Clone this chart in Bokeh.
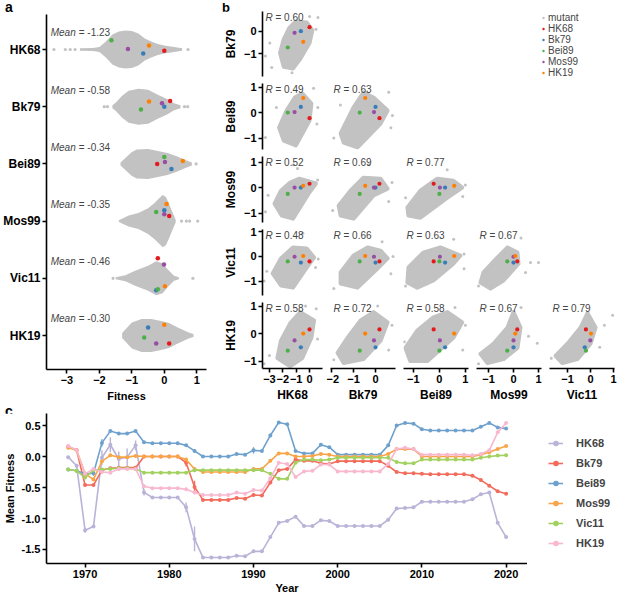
from bokeh.plotting import figure
from bokeh.models import Range1d, FixedTicker, Label, Legend, LegendItem, NumeralTickFormatter, Div
from bokeh.layouts import row, column
from bokeh.embed import file_html
from bokeh.resources import INLINE

FONT = "Liberation Sans"
GRAY = "#c2c2c2"

# ---------------- data ----------------
strains = ["HK68", "Bk79", "Bei89", "Mos99", "Vic11", "HK19"]
mean_fitness = [-1.23, -0.58, -0.34, -0.35, -0.46, -0.30]

wt_names = ["HK68", "Bk79", "Bei89", "Mos99", "HK19"]
wt_colors = ["#e41a1c", "#377eb8", "#4daf4a", "#984ea3", "#ff7f00"]

# fitness of the five labelled strains, measured in each background
wt_fit_HK68 = [0.00, -0.65, -1.63, -1.12, -0.47]
wt_fit_Bk79 = [0.18, 0.00, -0.72, -0.07, -0.47]
wt_fit_Bei89 = [-0.22, 0.22, 0.00, 0.02, 0.57]
wt_fit_Mos99 = [0.15, 0.00, -0.25, 0.00, 0.07]
wt_fit_Vic11 = [-0.20, -0.25, -0.20, -0.01, 0.02]
wt_fit_HK19 = [0.15, -0.50, -0.62, -0.25, 0.00]
# swarm jitter of those points (row units)
wt_jit_HK68 = [-0.02, -0.07, 0.16, 0.01, 0.07]
wt_jit_Bk79 = [0.10, 0.00, -0.05, 0.06, 0.09]
wt_jit_Bei89 = [0.00, -0.09, 0.12, 0.035, 0.05]
wt_jit_Mos99 = [0.09, 0.19, 0.16, 0.12, 0.30]
wt_jit_Vic11 = [0.35, -0.21, -0.19, 0.24, -0.14]
wt_jit_HK19 = [-0.14, 0.14, -0.035, -0.14, 0.19]

# beeswarm outline of the mutants: fitness and half width (row units)
swarm_f_HK68 = [-2.6, -2.2, -2.0, -1.8, -1.6, -1.4, -1.2, -1.0, -0.8, -0.6, -0.4, -0.2, 0.0, 0.2, 0.4, 0.55]
swarm_w_HK68 = [0.021, 0.026, 0.044, 0.14, 0.262, 0.315, 0.332, 0.323, 0.28, 0.192, 0.14, 0.096, 0.07, 0.052, 0.035, 0.021]
swarm_t_HK68 = [-3.40, -3.05, -2.9, -2.75, 0.73]
swarm_f_Bk79 = [-1.6, -1.5, -1.3, -1.1, -0.8, -0.5, -0.2, 0.1, 0.3, 0.5]
swarm_w_Bk79 = [0.026, 0.07, 0.192, 0.28, 0.315, 0.297, 0.21, 0.131, 0.061, 0.026]
swarm_t_Bk79 = [-1.85, -1.75, 0.62, 0.72]
swarm_f_Bei89 = [-1.35, -1.2, -1.0, -0.85, -0.5, -0.2, 0.1, 0.4, 0.65, 0.85]
swarm_w_Bei89 = [0.026, 0.105, 0.21, 0.253, 0.262, 0.227, 0.192, 0.131, 0.07, 0.026]
swarm_t_Bei89 = [0.98]
swarm_f_Mos99 = [-1.4, -1.1, -0.8, -0.5, -0.3, -0.15, -0.05, 0.05, 0.15, 0.25, 0.35]
swarm_w_Mos99 = [0.017, 0.096, 0.14, 0.227, 0.315, 0.402, 0.455, 0.42, 0.297, 0.157, 0.026]
swarm_t_Mos99 = [0.53, 0.68, 0.78, 1.03]
swarm_f_Vic11 = [-1.5, -1.2, -0.9, -0.5, -0.25, -0.05, 0.1, 0.3, 0.45]
swarm_w_Vic11 = [0.017, 0.052, 0.131, 0.219, 0.297, 0.262, 0.157, 0.044, 0.017]
swarm_t_Vic11 = [-1.58, 0.88]
swarm_f_HK19 = [-1.3, -1.2, -1.0, -0.7, -0.4, -0.1, 0.15, 0.35, 0.55, 0.75, 0.9]
swarm_w_HK19 = [0.044, 0.105, 0.227, 0.288, 0.288, 0.253, 0.219, 0.157, 0.105, 0.052, 0.026]
swarm_t_HK19 = []

# correlation coefficients (row strain vs column strain)
R_Bk79 = [0.60]
R_Bei89 = [0.49, 0.63]
R_Mos99 = [0.52, 0.69, 0.77]
R_Vic11 = [0.48, 0.66, 0.63, 0.67]
R_HK19 = [0.58, 0.72, 0.58, 0.67, 0.79]

# axis spans of the scatter matrix
xspan_HK68 = (-3.52, 0.97)
xspan_Bk79 = (-2.05, 0.91)
xspan_Bei89 = (-1.38, 1.12)
xspan_Mos99 = (-1.48, 1.12)
xspan_Vic11 = (-1.78, 1.04)
yspan_Bk79 = (-2.0, 0.87)
yspan_Bei89 = (-1.45, 1.14)
yspan_Mos99 = (-1.37, 1.22)
yspan_Vic11 = (-1.59, 1.10)
yspan_HK19 = (-1.27, 1.13)

# outline of the dense mutant cloud in each scatter panel (x = column strain, y = row strain)
cx_Bk79_HK68 = [-1.03, -0.21, 0.21, 0.0, -0.69, -1.24, -1.93, -2.21, -1.93, -1.52]
cy_Bk79_HK68 = [0.43, 0.39, 0.04, -0.52, -1.22, -1.65, -1.57, -0.96, -0.35, 0.13]
cx_Bei89_HK68 = [-0.55, 0.14, 0.0, -1.03, -1.93, -2.28, -1.72, -1.10]
cy_Bei89_HK68 = [0.75, 0.35, -0.31, -1.29, -1.10, -0.59, 0.08, 0.59]
cx_Mos99_HK68 = [-0.76, 0.48, -0.07, -1.24, -2.07, -2.62, -2.14, -1.45]
cy_Mos99_HK68 = [0.35, 0.16, -0.24, -1.22, -1.10, -0.63, -0.12, 0.20]
cx_Vic11_HK68 = [-1.24, -0.21, 0.34, -0.21, -1.24, -2.14, -2.76, -2.14]
cy_Vic11_HK68 = [0.37, 0.33, -0.04, -0.45, -1.27, -1.18, -0.69, -0.08]
cx_HK19_HK68 = [-0.69, 0.34, 0.14, -0.55, -1.45, -2.41, -2.14, -1.45]
cy_HK19_HK68 = [0.78, 0.48, -0.15, -0.89, -1.19, -0.89, -0.26, 0.37]
cx_Bei89_Bk79 = [-0.55, -0.09, 0.55, 0.23, -0.82, -1.45, -1.59, -1.0]
cy_Bei89_Bk79 = [0.78, 0.59, 0.08, -0.43, -1.37, -1.18, -0.82, 0.2]
cx_Mos99_Bk79 = [-0.55, 0.23, 0.55, -0.09, -1.0, -1.59, -1.68, -1.14]
cy_Mos99_Bk79 = [0.39, 0.35, -0.04, -0.31, -1.22, -1.10, -0.71, -0.12]
cx_Vic11_Bk79 = [-0.36, 0.23, 0.55, 0.09, -0.82, -1.59, -1.59, -1.0]
cy_Vic11_Bk79 = [0.37, 0.24, -0.08, -0.49, -1.27, -1.10, -0.65, 0.04]
cx_HK19_Bk79 = [-0.09, 0.55, 0.23, -0.55, -1.45, -1.73, -1.27, -0.68]
cy_HK19_Bk79 = [0.78, 0.41, -0.26, -0.93, -1.07, -0.70, -0.15, 0.48]
cx_Mos99_Bei89 = [-0.08, 0.54, 0.88, 0.31, -0.73, -1.19, -1.23, -0.73]
cy_Mos99_Bei89 = [0.35, 0.27, 0.0, -0.39, -1.18, -1.10, -0.78, -0.12]
cx_Vic11_Bei89 = [0.04, 0.81, 0.54, -0.23, -0.85, -1.23, -1.19, -0.62]
cy_Vic11_Bei89 = [0.37, 0.04, -0.29, -0.98, -1.27, -1.06, -0.45, 0.16]
cx_HK19_Bei89 = [0.31, 0.88, 0.54, -0.46, -1.12, -1.31, -0.85, -0.23]
cy_HK19_Bei89 = [0.78, 0.41, -0.15, -1.0, -1.0, -0.52, 0.11, 0.59]
cx_Vic11_Mos99 = [-0.24, 0.16, 0.2, -0.4, -0.92, -1.32, -1.2, -0.64]
cy_Vic11_Mos99 = [0.37, 0.16, -0.29, -0.98, -1.31, -1.06, -0.65, -0.04]
cx_HK19_Mos99 = [0.0, 0.28, 0.16, -0.4, -1.04, -1.32, -0.8, -0.24]
cy_HK19_Mos99 = [0.78, 0.22, -0.52, -0.93, -1.07, -0.74, -0.37, 0.22]
cx_HK19_Vic11 = [-0.13, 0.22, 0.0, -0.57, -1.22, -1.52, -1.0, -0.43]
cy_HK19_Vic11 = [0.74, 0.22, -0.37, -0.93, -1.07, -0.81, -0.37, 0.22]

# scattered mutants outside the dense cloud (x, y)
out_Bk79_HK68 = [(0.0, 0.65), (0.63, 0.61), (0.48, 0.09), (-2.97, -0.52), (-3.3, -1.09), (-2.83, -1.6), (-1.31, -1.83)]
out_Bei89_HK68 = [(-2.48, 0.2), (0.62, 0.2), (-3.3, -0.98), (0.3, 0.95), (0.55, -0.45)]
out_Mos99_HK68 = [(-3.1, -0.3), (-3.3, -0.95), (0.6, 0.3), (-0.9, 0.75), (-1.2, 0.9)]
out_Vic11_HK68 = [(-3.2, -0.6), (-3.4, -1.0), (0.65, -0.1), (-0.5, 0.95), (0.45, -0.45)]
out_HK19_HK68 = [(-3.0, -0.8), (-3.4, -1.1), (0.5, 0.9), (0.6, -0.2), (-0.3, 1.0)]
out_Bei89_Bk79 = [(0.77, -0.12), (0.6, 0.8), (-1.9, -1.0), (-1.6, 0.3), (0.7, -0.6)]
out_Mos99_Bk79 = [(0.75, 0.2), (-0.3, 0.9), (-1.95, -0.9), (0.6, -0.55)]
out_Vic11_Bk79 = [(0.8, 0.0), (-1.9, -1.3), (0.3, 0.6), (0.7, -0.7)]
out_HK19_Bk79 = [(0.75, 0.3), (-1.9, -0.95), (0.1, 1.0), (0.6, -0.6)]
out_Mos99_Bei89 = [(1.0, 0.1), (-1.3, -0.4), (0.3, 0.7), (0.9, -0.35)]
out_Vic11_Bei89 = [(0.95, 0.1), (0.55, 0.7), (-1.3, -1.2), (0.95, -0.5)]
out_HK19_Bei89 = [(1.0, 0.3), (-1.35, -0.3), (0.6, 0.95), (0.9, -0.6)]
out_Vic11_Mos99 = [(0.68, -0.24), (1.0, -0.24), (0.48, -0.65), (0.3, 0.75), (-1.4, -1.2)]
out_HK19_Mos99 = [(0.6, -0.1), (0.95, -0.35), (-1.4, -1.1), (0.3, 0.95)]
out_HK19_Vic11 = [(0.96, 0.67), (0.6, 0.3), (-1.7, -0.9), (0.4, -0.5)]

# mean fitness of each strain against the mutants of each year
years = list(range(1968, 2021))
mf_HK68 = [-0.01, -0.15, -1.19, -1.13, -0.02, 0.19, -0.04, -0.01, 0.18, -0.58,
           -0.66, -0.66, -0.66, -0.66, -0.82, -1.33, -1.63, -1.63, -1.63, -1.63,
           -1.60, -1.61, -1.53, -1.53, -1.30, -1.07, -1.04, -0.97, -1.12, -1.12,
           -1.03, -1.04, -1.12, -1.12, -1.12, -1.12, -1.12, -1.12, -1.02, -0.84,
           -0.83, -0.82, -0.73, -0.73, -0.73, -0.73, -0.73, -0.73, -0.69, -0.61,
           -0.58, -1.07, -1.30]
mf_Bk79 = [0.16, 0.10, -0.46, -0.46, -0.22, -0.19, -0.18, -0.18, -0.18, 0.00,
           0.00, 0.00, 0.00, 0.00, -0.10, -0.49, -0.70, -0.70, -0.70, -0.70,
           -0.67, -0.68, -0.62, -0.63, -0.42, -0.22, -0.20, -0.05, -0.07, -0.07,
           -0.11, -0.12, -0.075, -0.075, -0.075, -0.075, -0.075, -0.075, -0.15, -0.25,
           -0.27, -0.27, -0.28, -0.285, -0.285, -0.285, -0.285, -0.285, -0.31, -0.38,
           -0.47, -0.56, -0.60]
mf_Bei89 = [-0.21, -0.23, -0.28, -0.27, 0.22, 0.41, 0.37, 0.37, 0.41, 0.23,
            0.215, 0.215, 0.215, 0.215, 0.18, 0.09, 0.00, 0.00, 0.00, 0.00,
            0.04, 0.03, 0.10, 0.09, 0.34, 0.55, 0.52, 0.09, 0.05, 0.05,
            0.19, 0.15, 0.03, 0.03, 0.03, 0.03, 0.03, 0.03, 0.18, 0.50,
            0.54, 0.53, 0.44, 0.42, 0.42, 0.42, 0.42, 0.42, 0.42, 0.48,
            0.54, 0.47, 0.45]
mf_Mos99 = [0.14, 0.10, -0.28, -0.37, -0.08, 0.02, -0.01, -0.01, 0.01, 0.00,
            0.00, 0.00, 0.00, 0.00, -0.05, -0.20, -0.25, -0.25, -0.25, -0.25,
            -0.25, -0.25, -0.20, -0.20, -0.07, 0.05, 0.05, 0.00, 0.00, 0.01,
            0.04, 0.03, 0.00, 0.00, 0.00, 0.00, 0.00, 0.00, 0.04, 0.12,
            0.12, 0.12, 0.00, 0.00, 0.00, 0.00, 0.00, 0.00, 0.00, 0.03,
            0.07, 0.12, 0.17]
mf_Vic11 = [-0.21, -0.23, -0.34, -0.22, -0.21, -0.20, -0.19, -0.19, -0.20, -0.26,
            -0.26, -0.26, -0.26, -0.26, -0.26, -0.22, -0.22, -0.22, -0.22, -0.22,
            -0.22, -0.22, -0.22, -0.22, -0.28, -0.36, -0.36, -0.10, -0.05, -0.05,
            -0.06, -0.05, -0.02, -0.02, -0.02, -0.02, -0.02, -0.02, -0.02, -0.09,
            -0.11, -0.11, -0.05, -0.05, -0.05, -0.05, -0.05, -0.05, -0.05, -0.02,
            0.00, 0.015, 0.02]
mf_HK19 = [0.17, 0.10, -0.28, -0.20, -0.25, -0.26, -0.20, -0.20, -0.20, -0.48,
           -0.51, -0.51, -0.51, -0.51, -0.53, -0.58, -0.62, -0.62, -0.62, -0.62,
           -0.58, -0.60, -0.54, -0.55, -0.35, -0.10, -0.12, -0.33, -0.24, -0.23,
           -0.13, -0.13, -0.24, -0.24, -0.24, -0.24, -0.24, -0.24, -0.12, 0.12,
           0.14, 0.12, 0.03, 0.03, 0.03, 0.03, 0.03, 0.03, 0.02, 0.04,
           0.10, 0.39, 0.54]
line_colors = ["#b9b3d8", "#f26b5b", "#6fa1cd", "#f8a54a", "#a3d160", "#f8b8d0"]
# error bars (year, half length)
err_y_HK68 = [1970, 1972, 1973, 1974, 1975, 1976, 1977, 1982, 1983]
err_e_HK68 = [0.04, 0.12, 0.12, 0.12, 0.14, 0.08, 0.05, 0.08, 0.20]
err_y_Bk79 = [1982, 1983]
err_e_Bk79 = [0.06, 0.10]
err_y_Bei89 = [1970, 1971, 1972, 1983, 1990, 1992]
err_e_Bei89 = [0.04, 0.04, 0.06, 0.03, 0.05, 0.03]

# ---------------- gather ----------------
wt_fit = dict(HK68=wt_fit_HK68, Bk79=wt_fit_Bk79, Bei89=wt_fit_Bei89, Mos99=wt_fit_Mos99, Vic11=wt_fit_Vic11, HK19=wt_fit_HK19)
wt_jit = dict(HK68=wt_jit_HK68, Bk79=wt_jit_Bk79, Bei89=wt_jit_Bei89, Mos99=wt_jit_Mos99, Vic11=wt_jit_Vic11, HK19=wt_jit_HK19)
swarm = {s: (globals()["swarm_f_" + s], globals()["swarm_w_" + s], globals()["swarm_t_" + s]) for s in strains}
Rvals = dict(Bk79=R_Bk79, Bei89=R_Bei89, Mos99=R_Mos99, Vic11=R_Vic11, HK19=R_HK19)
xspan = {s: globals()["xspan_" + s] for s in strains[:5]}
yspan = {s: globals()["yspan_" + s] for s in strains[1:]}
mf = {s: globals()["mf_" + s] for s in strains}


def base_fig(width, height, xr, yr, xaxis=None, yaxis=None, bl=0, br=0, bt=0, bb=0):
    p = figure(width=width, height=height, x_range=Range1d(*xr), y_range=Range1d(*yr),
               x_axis_location=xaxis, y_axis_location=yaxis,
               output_backend="svg", toolbar_location=None,
               min_border_left=bl, min_border_right=br, min_border_top=bt, min_border_bottom=bb)
    p.outline_line_color = None
    p.grid.grid_line_color = None
    p.background_fill_color = "white"
    p.border_fill_color = "white"
    return p


def style_axis(ax, tick_size="11px", label_size="11px"):
    ax.axis_line_width = 1.6
    ax.axis_line_color = "black"
    ax.major_tick_line_width = 1.6
    ax.major_tick_line_color = "black"
    ax.major_tick_out = 4
    ax.major_tick_in = 0
    ax.minor_tick_line_color = None
    ax.major_label_text_font = FONT
    ax.major_label_text_font_style = "bold"
    ax.major_label_text_font_size = tick_size
    ax.major_label_text_color = "black"
    ax.major_label_standoff = 2
    ax.axis_label_text_font = FONT
    ax.axis_label_text_font_style = "bold"
    ax.axis_label_text_font_size = label_size
    ax.axis_label_text_color = "black"
    ax.axis_label_standoff = 3


def letter_div(width, height, letter, pad_left, size):
    html = ('<div style="font-family:\'%s\';font-weight:bold;font-size:%s;line-height:%dpx;'
            'padding-left:%dpx;color:black;white-space:nowrap;">%s</div>') % (FONT, size, height, pad_left, letter)
    return Div(text=html, width=width, height=height, margin=0)


# ---------------- panel a ----------------
pa = base_fig(220, 392, (-3.63, 1.3), (-0.594, 5.612), xaxis="below", yaxis="left", bl=42, br=14, bt=2, bb=35)
centers = [5 - i for i in range(6)]
for i, s in enumerate(strains):
    f, w, t = swarm[s]
    c = centers[i]
    pa.varea(x=f, y1=[c - h for h in w], y2=[c + h for h in w], fill_color=GRAY)
    if t:
        pa.scatter(x=t, y=[c] * len(t), size=3.2, fill_color=GRAY, line_color=None)
    pa.scatter(x=wt_fit[s], y=[c + o for o in wt_jit[s]], size=4.5, fill_color=wt_colors, line_color=None)
    pa.add_layout(Label(x=-3.5, y=c + 0.29, text="Mean", text_font=FONT, text_font_style="italic",
                        text_font_size="10px", text_baseline="middle"))
    pa.add_layout(Label(x=-3.5, y=c + 0.29, x_offset=28, text="= %.2f" % mean_fitness[i], text_font=FONT,
                        text_font_size="10px", text_baseline="middle"))
style_axis(pa.xaxis[0])
style_axis(pa.yaxis[0], tick_size="12px")
pa.yaxis.ticker = FixedTicker(ticks=centers)
pa.yaxis.major_label_overrides = {c: s for c, s in zip(centers, strains)}
pa.xaxis.ticker = FixedTicker(ticks=[-3, -2, -1, 0, 1])
pa.xaxis.axis_label = "Fitness"
panel_a = column(letter_div(220, 12, "a", 5, "14px"), pa)

# ---------------- panel b ----------------
def cell(ri, ci):
    rname, cname = strains[ri], strains[ci]
    left, bottom, last = ci == 0, ri == 5, ci == 4
    w = 106 if left else (72 if last else 73)
    if ri == 1:
        h, bt, bb = 68, 0, 3
    elif bottom:
        h, bt, bb = 106, 4, 36
    else:
        h, bt, bb = 73, 4, 3
    xr, yr = xspan[cname], yspan[rname]
    p = base_fig(w, h, xr, yr, xaxis="below" if bottom else None, yaxis="left" if left else None,
                 bl=37 if left else 4, br=3 if last else 4, bt=bt, bb=bb)
    key = "%s_%s" % (rname, cname)
    cx, cy = globals()["cx_" + key], globals()["cy_" + key]
    p.patch(x=cx, y=cy, fill_color=GRAY, line_color=GRAY, line_width=4, line_join="round")
    outs = globals()["out_" + key]
    p.scatter(x=[o[0] for o in outs], y=[o[1] for o in outs], size=3, fill_color=GRAY, line_color=None)
    p.scatter(x=wt_fit[cname], y=wt_fit[rname], size=4.2, fill_color=wt_colors, line_color=None)
    R = Rvals[rname][ci]
    p.add_layout(Label(x=xr[0], y=yr[1], x_offset=3, text="R", text_font=FONT, text_font_style="italic",
                       text_font_size="10px", text_baseline="top"))
    p.add_layout(Label(x=xr[0], y=yr[1], x_offset=13, text="= %.2f" % R, text_font=FONT,
                       text_font_size="10px", text_baseline="top"))
    if left:
        style_axis(p.yaxis[0], label_size="12px")
        p.yaxis.ticker = FixedTicker(ticks=[-1, 0, 1])
        p.yaxis.axis_label = rname
    if bottom:
        style_axis(p.xaxis[0], label_size="12px")
        p.xaxis.axis_label_standoff = 2
        p.xaxis.ticker = FixedTicker(ticks=[-3, -2, -1, 0, 1])
        p.xaxis.axis_label = cname
    return p


lb = base_fig(291, 79, (0, 1), (0, 1), bl=214, bt=12)
items = [LegendItem(label="mutant", renderers=[lb.scatter(x=[-5], y=[-5], size=5, fill_color=GRAY, line_color=None)])]
for n, col in zip(wt_names, wt_colors):
    items.append(LegendItem(label=n, renderers=[lb.scatter(x=[-5], y=[-5], size=5, fill_color=col, line_color=None)]))
legb = Legend(items=items, location="top_left", glyph_width=6, glyph_height=11, label_height=11,
              label_standoff=2, spacing=0, padding=0, margin=0, border_line_color=None,
              background_fill_alpha=0, label_text_font=FONT, label_text_font_size="10px")
lb.add_layout(legb)

first_col = column(letter_div(106, 11, "b", 2, "13px"), cell(1, 0))
rows_b = [row(first_col, lb)]
for ri in range(2, 6):
    rows_b.append(row(*[cell(ri, ci) for ci in range(ri)]))
panel_b = column(*rows_b)

# ---------------- panel c ----------------
pc = base_fig(527, 183, (1965.42, 2022.54), (-1.726, 0.694), xaxis="below", yaxis="left", bl=44, br=0, bt=0, bb=33)
for s, col in zip(strains, line_colors):
    pc.line(x=years, y=mf[s], line_color=col, line_width=1.6)
    pc.scatter(x=years, y=mf[s], size=4, fill_color=col, line_color=None)
    if ("err_y_" + s) in globals():
        ey = globals()["err_y_" + s]
        ee = globals()["err_e_" + s]
        vals = [mf[s][years.index(yv)] for yv in ey]
        pc.segment(x0=ey, y0=[v - e for v, e in zip(vals, ee)], x1=ey, y1=[v + e for v, e in zip(vals, ee)],
                   line_color=col, line_width=1.4)
style_axis(pc.xaxis[0], tick_size="11px", label_size="11px")
style_axis(pc.yaxis[0], tick_size="11px", label_size="11px")
pc.xaxis.axis_label_standoff = 1
pc.xaxis.ticker = FixedTicker(ticks=[1970, 1980, 1990, 2000, 2010, 2020])
pc.yaxis.ticker = FixedTicker(ticks=[-1.5, -1.0, -0.5, 0.0, 0.5])
pc.yaxis.formatter = NumeralTickFormatter(format="0.0")
pc.xaxis.axis_label = "Year"
pc.yaxis.axis_label = "Mean Fitness"
panel_c = column(letter_div(527, 9, "c", 5, "14px"), pc)

lc = base_fig(90, 192, (0, 1), (0, 1), bl=21, bt=32)
items_c = []
for s, col in zip(strains, line_colors):
    r1 = lc.line(x=[-5, -4], y=[-5, -5], line_color=col, line_width=1.6)
    r2 = lc.scatter(x=[-5], y=[-5], size=4, fill_color=col, line_color=None)
    items_c.append(LegendItem(label=s, renderers=[r1, r2]))
legc = Legend(items=items_c, location="top_left", glyph_width=15, glyph_height=14, label_height=14,
              label_standoff=13, spacing=6, padding=0, margin=0, border_line_color=None,
              background_fill_alpha=0, label_text_font=FONT, label_text_font_style="bold",
              label_text_font_size="11px")
lc.add_layout(legc)

layout = column(row(panel_a, panel_b), row(panel_c, lc))
open("out.html", "w").write(file_html(layout, INLINE))
